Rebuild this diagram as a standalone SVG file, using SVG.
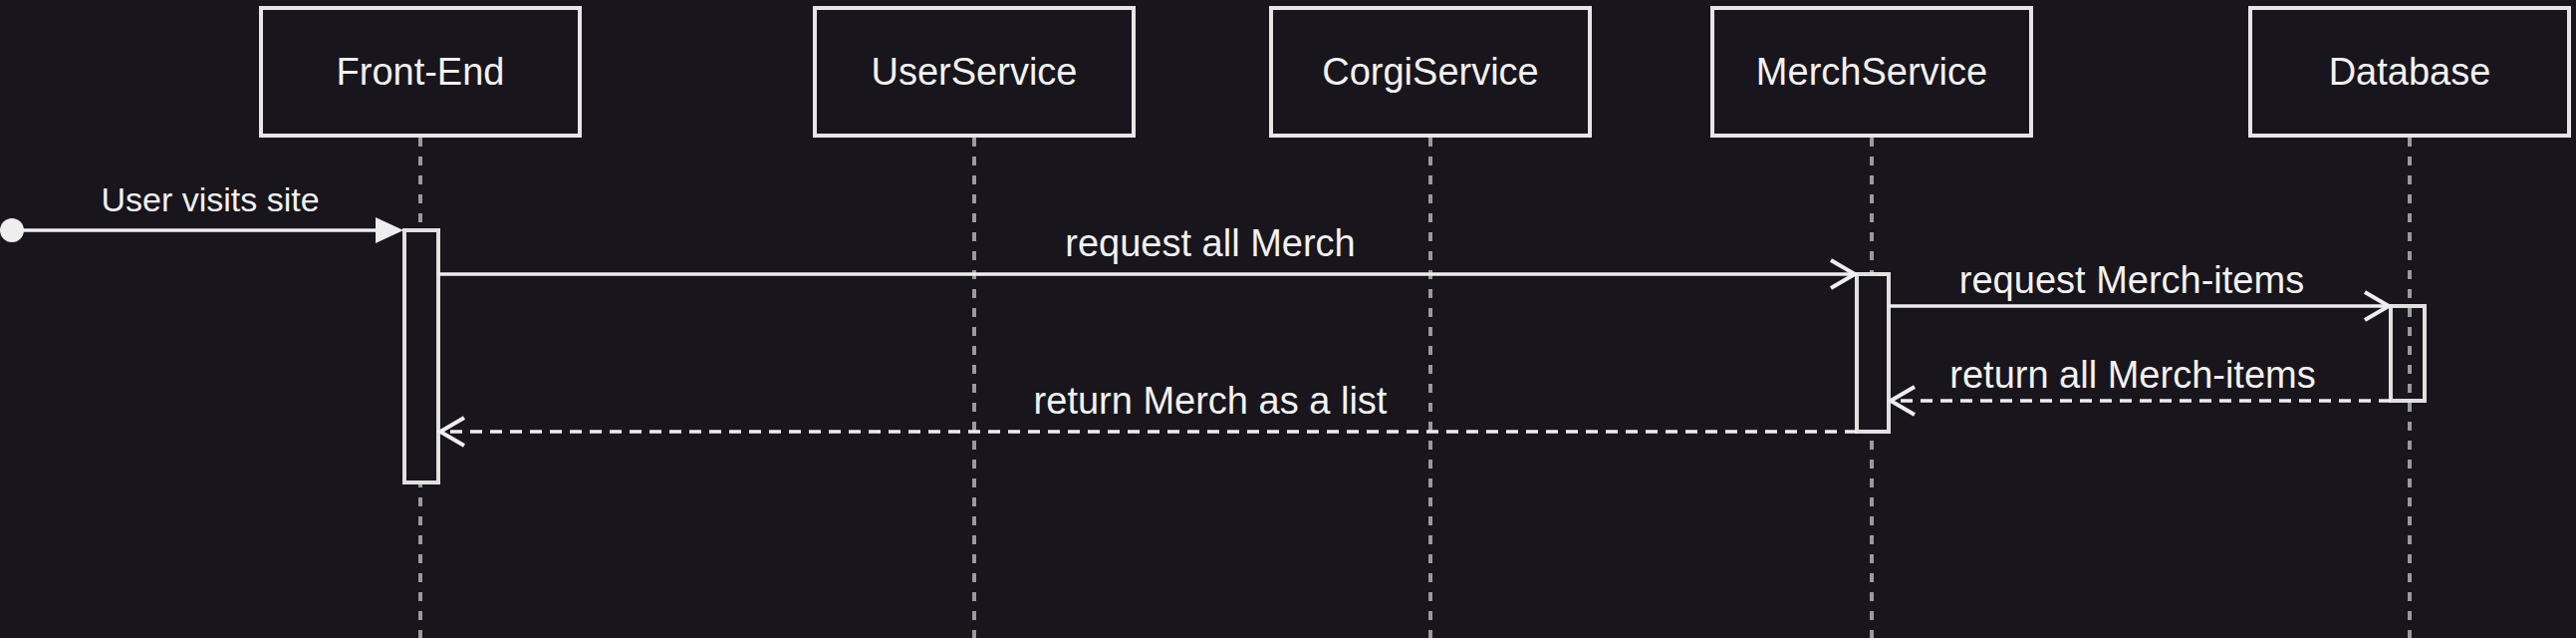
<svg xmlns="http://www.w3.org/2000/svg" width="2586" height="640" viewBox="0 0 2586 640">
  <style>
    .box { fill: #18151d; stroke: #e6e6e6; stroke-width: 4; }
    .act { fill: #18151d; stroke: #e0e0e0; stroke-width: 4; }
    .act-open { fill: none; stroke: #e0e0e0; stroke-width: 4; }
    .life { stroke: #9a9a9a; stroke-width: 4; stroke-dasharray: 9 10; fill: none; }
    .msg { stroke: #eeeeee; stroke-width: 3.5; fill: none; }
    .ret { stroke: #eeeeee; stroke-width: 3.5; fill: none; stroke-dasharray: 12 8; }
    .label { font-family: "Liberation Sans", Arial, Helvetica, sans-serif; font-size: 38px; fill: #f2f2f2; text-anchor: middle; }
    .small { font-size: 34px; }
  </style>
  <defs>
    <marker id="open" markerUnits="userSpaceOnUse" markerWidth="32" markerHeight="34" viewBox="0 0 32 34" refX="27" refY="16" orient="auto">
      <path d="M3,2 L27,16 L3,30" fill="none" stroke="#eeeeee" stroke-width="4" stroke-dasharray="none"/>
    </marker>
    <marker id="block" markerUnits="userSpaceOnUse" markerWidth="30" markerHeight="30" viewBox="0 0 30 30" refX="14" refY="14" orient="auto">
      <path d="M0,1 L28,14 L0,27 Z" fill="#eeeeee"/>
    </marker>
  </defs>
  <rect x="0" y="0" width="2586" height="640" fill="#18151d"/>

  <g id="lifelines">
    <line class="life" x1="422" y1="138" x2="422" y2="640"/>
    <line class="life" x1="978" y1="138" x2="978" y2="640"/>
    <line class="life" x1="1436" y1="138" x2="1436" y2="640"/>
    <line class="life" x1="1879" y1="138" x2="1879" y2="640"/>
    <line class="life" x1="2419" y1="138" x2="2419" y2="640"/>
  </g>

  <g id="front-end">
    <rect class="box" x="262" y="8" width="320" height="128"/>
    <text class="label" x="422" y="85">Front-End</text>
    <rect class="act" x="406" y="231" width="34" height="253"/>
  </g>
  <g id="user-service">
    <rect class="box" x="818" y="8" width="320" height="128"/>
    <text class="label" x="978" y="85">UserService</text>
  </g>
  <g id="corgi-service">
    <rect class="box" x="1276" y="8" width="320" height="128"/>
    <text class="label" x="1436" y="85">CorgiService</text>
  </g>
  <g id="merch-service">
    <rect class="box" x="1719" y="8" width="320" height="128"/>
    <text class="label" x="1879" y="85">MerchService</text>
    <rect class="act" x="1864" y="275" width="32" height="158"/>
  </g>
  <g id="database">
    <rect class="box" x="2259" y="8" width="320" height="128"/>
    <text class="label" x="2419" y="85">Database</text>
    <rect class="act-open" x="2400" y="307" width="34" height="95"/>
  </g>

  <g id="connectors">
    <circle cx="12" cy="231" r="12" fill="#eeeeee"/>
    <line class="msg" x1="20" y1="231" x2="391" y2="231" marker-end="url(#block)"/>
    <text class="label small" x="211" y="212">User visits site</text>

    <line class="msg" x1="440" y1="275" x2="1862" y2="275" marker-end="url(#open)"/>
    <text class="label" x="1215" y="257">request all Merch</text>

    <line class="msg" x1="1896" y1="307" x2="2398" y2="307" marker-end="url(#open)"/>
    <text class="label" x="2140" y="294">request Merch-items</text>

    <line class="ret" x1="2400" y1="402" x2="1898" y2="402" marker-end="url(#open)"/>
    <text class="label" x="2141" y="389">return all Merch-items</text>

    <line class="ret" x1="1864" y1="433" x2="442" y2="433" marker-end="url(#open)"/>
    <text class="label" x="1215" y="415">return Merch as a list</text>
  </g>
</svg>
